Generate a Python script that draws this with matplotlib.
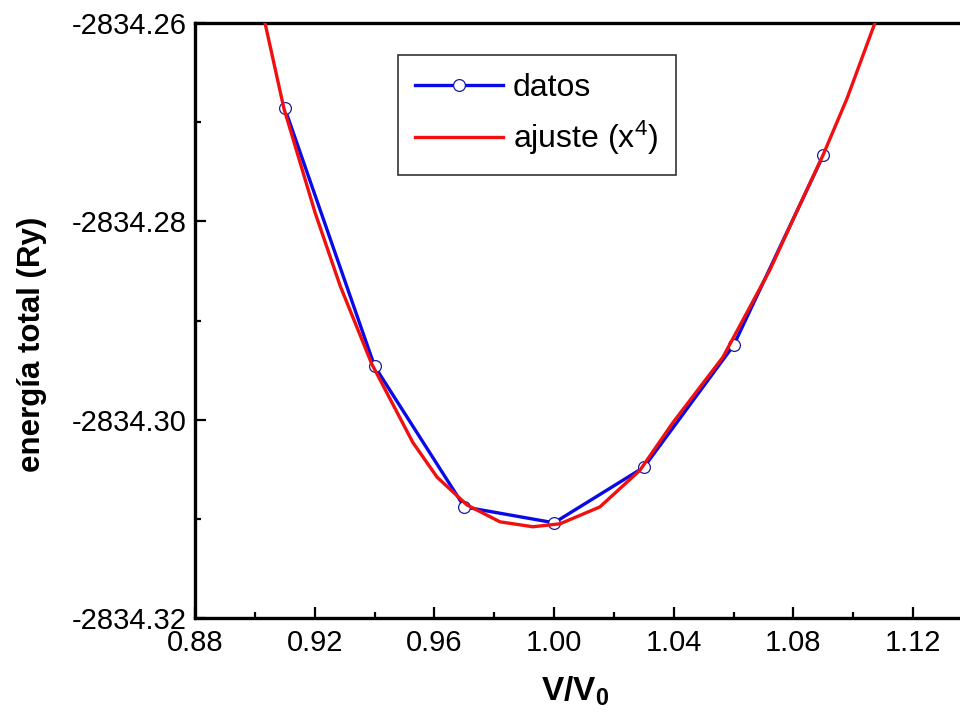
import matplotlib
matplotlib.use("Agg")
import matplotlib.pyplot as plt
from matplotlib.ticker import MultipleLocator, FormatStrFormatter

plt.rcParams['font.family'] = ['Liberation Sans', 'DejaVu Sans']
plt.rcParams['axes.unicode_minus'] = False
plt.rcParams['mathtext.fontset'] = 'custom'
plt.rcParams['mathtext.rm'] = 'Liberation Sans'
plt.rcParams['mathtext.it'] = 'Liberation Sans'
plt.rcParams['mathtext.bf'] = 'Liberation Sans:bold'

# data
v_datos = [0.91, 0.94, 0.97, 1.00, 1.03, 1.06, 1.09]
e_datos = [-2834.2686, -2834.2946, -2834.3088, -2834.3104, -2834.3048, -2834.2925, -2834.2733]

v_ajuste = [0.9034, 0.9097, 0.9201, 0.9285, 0.9391, 0.9528, 0.9609, 0.9709, 0.9819,
            0.9929, 1.0020, 1.0153, 1.0287, 1.0397, 1.0564, 1.0721, 1.0805, 1.0899,
            1.0979, 1.1072]
e_ajuste = [-2834.2600, -2834.2686, -2834.2791, -2834.2865, -2834.2944, -2834.3023,
            -2834.3058, -2834.3086, -2834.3103, -2834.3108, -2834.3105, -2834.3088,
            -2834.3051, -2834.3003, -2834.2937, -2834.2849, -2834.2794, -2834.2733,
            -2834.2676, -2834.2600]

fig = plt.figure(figsize=(9.6, 7.19), dpi=100)
ax = fig.add_axes([195/960, 1 - 618/719, 768/960, 595/719])

ax.plot(v_datos, e_datos, color='#0a0ae6', lw=2.4, marker='o', ms=8.5,
        mfc='white', mec='#1a1aa0', mew=0.9, label='datos', zorder=3)
ax.plot(v_ajuste, e_ajuste, color='#f01010', lw=2.4, label=r'ajuste (x$^\mathregular{4}$)', zorder=4)

ax.set_xlim(0.88, 0.88 + 768/2992.5)
ax.set_ylim(-2834.32, -2834.26)

ax.xaxis.set_major_locator(MultipleLocator(0.04))
ax.xaxis.set_minor_locator(MultipleLocator(0.02))
ax.yaxis.set_major_locator(MultipleLocator(0.02))
ax.yaxis.set_minor_locator(MultipleLocator(0.01))
ax.xaxis.set_major_formatter(FormatStrFormatter('%.2f'))
ax.yaxis.set_major_formatter(FormatStrFormatter('%.2f'))

ax.tick_params(which='both', direction='in', width=1.6, labelsize=21,
               top=False, right=False)
ax.tick_params(axis='x', pad=8)
ax.tick_params(axis='y', pad=6)
ax.tick_params(which='major', length=8)
ax.tick_params(which='minor', length=4.5)

for s in ['left', 'bottom', 'top']:
    ax.spines[s].set_linewidth(2.4)
ax.spines['right'].set_visible(False)

ax.set_ylabel('energía total (Ry)', fontsize=22.5, fontweight='bold')
ax.yaxis.set_label_coords(-0.193, 0.46)
ax.set_xlabel(r'$\mathbf{V/V_0}$', fontsize=24)
ax.xaxis.set_label_coords(0.495, -0.095)

leg = ax.legend(loc='upper left', bbox_to_anchor=(0.264, 0.946), borderaxespad=0,
                fontsize=23, handlelength=2.75, handletextpad=0.3, labelspacing=0.5,
                borderpad=0.55, fancybox=False, frameon=True)
leg.get_frame().set_edgecolor('black')
leg.get_frame().set_linewidth(1.2)

fig.savefig('out.png', dpi=100)
